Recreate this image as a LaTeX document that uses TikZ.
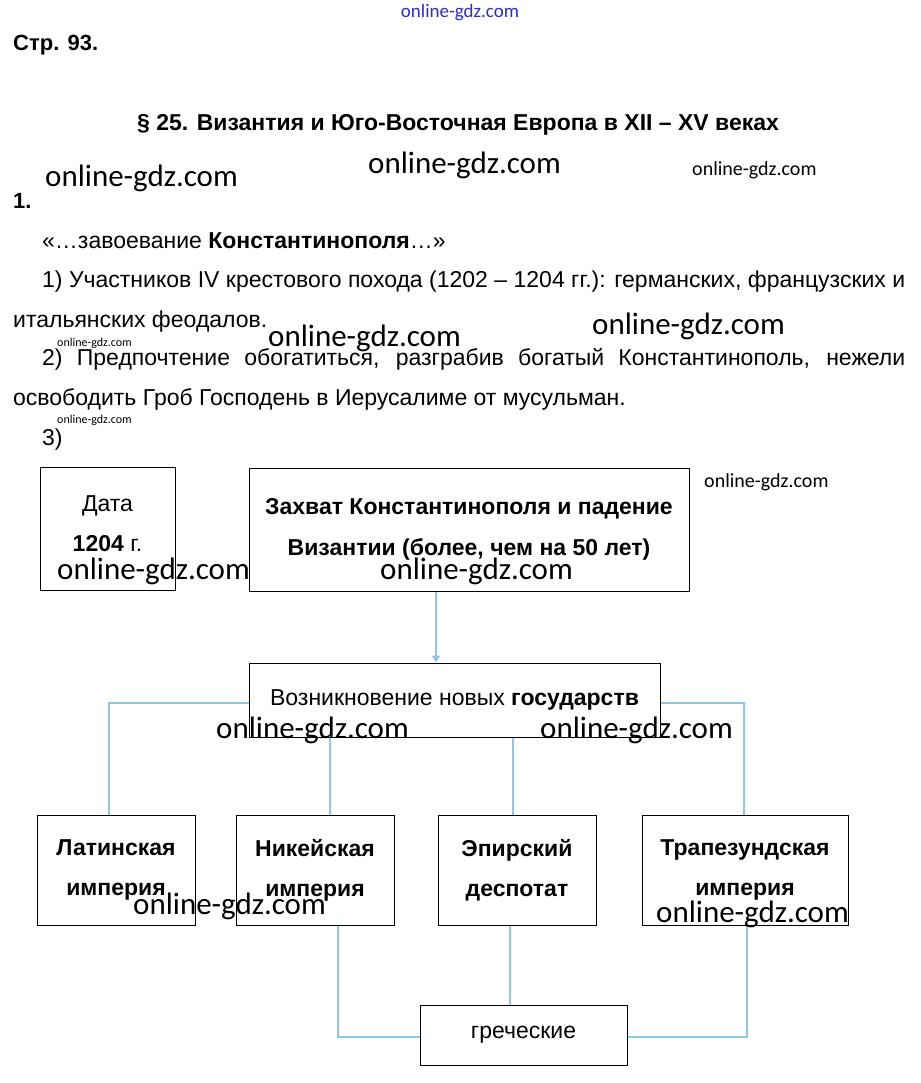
\documentclass[tikz,border=0pt]{standalone}
\usepackage{fontspec}
\setmainfont{Liberation Sans}
\newfontfamily\wmfont{Carlito}
\usetikzlibrary{arrows.meta}
\definecolor{LinkBlue}{HTML}{8CC8E6}
\definecolor{MarkBlue}{HTML}{2A2AD8}

\begin{document}
\begin{tikzpicture}[x=1pt,y=-1pt,>={Triangle[width=8pt,length=7pt]}]
    \tikzset{
      txt/.style={anchor=mid west,inner sep=0pt,font=\fontsize{23}{27}\selectfont},
      box/.style={draw=black,line width=1pt,align=center,inner sep=0pt,
        font=\fontsize{23}{40}\selectfont},
      state/.style={box,minimum width=158pt,minimum height=110pt,font=\fontsize{23}{40}\selectfont\bfseries},
      link/.style={draw=LinkBlue,line width=2pt},
      wmark/.style={inner sep=0pt,anchor=mid west,text=black,font=\wmfont\fontsize{31}{31}\selectfont},
      smallwmark/.style={wmark,font=\wmfont\fontsize{20}{20}\selectfont},
      tinywmark/.style={wmark,font=\wmfont\fontsize{12}{12}\selectfont}
    }
    \useasboundingbox[fill=white] (0,0) rectangle (920,1083);

    % header and text
    \node[txt,font=\fontsize{22}{26}\selectfont\bfseries] (page) at (13,48) {Стр. 93.};
    \node[inner sep=0pt,font=\fontsize{23}{27}\selectfont\bfseries] (title) at (458,125)
      {§ 25. Византия и Юго-Восточная Европа в XII – XV веках};
    \node[txt,font=\fontsize{22}{26}\selectfont\bfseries] (num) at (13,206) {1.};
    \node[txt] (quote) at (42,246) {«…завоевание \textbf{Константинополя}…»};
    \node[txt] (ans1) at (42,285) {\makebox[863pt][s]{1) Участников IV крестового похода (1202 – 1204 гг.): германских, французских и}};
    \node[txt] (ans1b) at (13,325) {итальянских феодалов.};
    \node[txt] (ans2) at (42,363) {\makebox[863pt][s]{2) Предпочтение обогатиться, разграбив богатый Константинополь, нежели}};
    \node[txt] (ans2b) at (13,403) {освободить Гроб Господень в Иерусалиме от мусульман.};
    \node[txt] (ans3) at (42,443) {3)};

    % scheme
    \node[box,minimum width=135pt,minimum height=123pt] (date) at (107.5,528.5)
      {Дата\\\textbf{1204} г.\\[-30pt]};
    \node[box,minimum width=440pt,minimum height=123pt,font=\fontsize{23}{41}\selectfont\bfseries]
      (capture) at (469,529.5) {Захват Константинополя и падение\\Византии (более, чем на 50 лет)};
    \node[box,minimum width=411pt,minimum height=74pt] (states) at (454.5,700)
      {Возникновение новых \textbf{государств}};
    \node[state] (latin) at (116,870) {Латинская\\империя};
    \node[state] (nikea) at (315,870) {Никейская\\империя};
    \node[state] (epirus) at (517,870) {Эпирский\\деспотат};
    \node[state,minimum width=206pt] (trebizond) at (745,870) {Трапезундская\\империя};
    \node[box,minimum width=207pt,minimum height=60pt] (greek) at (523.5,1035) {греческие};

    \coordinate (c1) at ([xshift=-33pt]capture.south);
    \draw[link,->] (c1) -- (c1 |- states.north);
    \draw[link] ([yshift=-3pt]states.west) -| ([xshift=-7pt]latin.north);
    \draw[link] ([xshift=15pt]nikea.north) -- ([xshift=15pt]nikea.north |- states.south);
    \draw[link] ([xshift=-4pt]epirus.north) -- ([xshift=-4pt]epirus.north |- states.south);
    \draw[link] ([yshift=-3pt]states.east) -| ([xshift=-1pt]trebizond.north);
    \draw[link] ([xshift=23pt]nikea.south) |- ([yshift=-2pt]greek.west);
    \draw[link] ([xshift=-7pt]epirus.south) -- ([xshift=-7pt]epirus.south |- greek.north);
    \draw[link] ([xshift=2pt]trebizond.south) |- ([yshift=-2pt]greek.east);

    % watermarks
    \node[inner sep=0pt,text=MarkBlue,font=\wmfont\fontsize{19}{19}\selectfont] (wm0) at (460,13) {online-gdz.com};
    \node[wmark] (wm1) at (45,184) {online-gdz.com};
    \node[wmark] (wm2) at (368,171) {online-gdz.com};
    \node[smallwmark] (wm3) at (692,173) {online-gdz.com};
    \node[wmark] (wm4) at (268,344) {online-gdz.com};
    \node[wmark] (wm5) at (592,332) {online-gdz.com};
    \node[tinywmark] (wm6) at (57,344) {online-gdz.com};
    \node[tinywmark] (wm7) at (57,421) {online-gdz.com};
    \node[smallwmark] (wm8) at (704,485) {online-gdz.com};
    \node[wmark] (wm9) at (57,577) {online-gdz.com};
    \node[wmark] (wm10) at (380,577) {online-gdz.com};
    \node[wmark] (wm11) at (216,736) {online-gdz.com};
    \node[wmark] (wm12) at (540,736) {online-gdz.com};
    \node[wmark] (wm13) at (133,912) {online-gdz.com};
    \node[wmark] (wm14) at (656,920) {online-gdz.com};
  \end{tikzpicture}
\end{document}
